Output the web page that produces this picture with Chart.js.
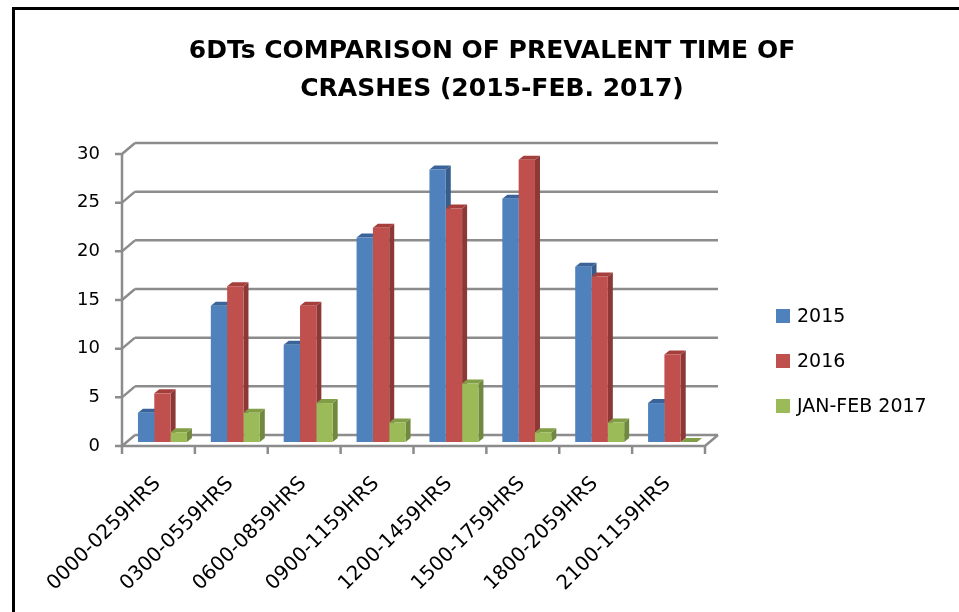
<!DOCTYPE html>
<html>
<head>
<meta charset="utf-8">
<script src="https://cdn.jsdelivr.net/npm/chart.js@4.4.1/dist/chart.umd.min.js"></script>
<style>
  html, body { margin: 0; padding: 0; background: #fff; overflow: hidden; width: 959px; height: 612px; }
  #frame { position: absolute; left: 12px; top: 7px; border-left: 3px solid #000; border-top: 3px solid #000; width: 954px; height: 602px; }
  #wrap { position: relative; width: 954px; height: 602px; }
</style>
</head>
<body>
<div id="frame"><div id="wrap"><canvas id="c"></canvas></div></div>
<script>
const titleLines = ["6DTs COMPARISON OF PREVALENT TIME OF", "CRASHES (2015-FEB. 2017)"];
const categories = ["0000-0259HRS", "0300-0559HRS", "0600-0859HRS", "0900-1159HRS", "1200-1459HRS", "1500-1759HRS", "1800-2059HRS", "2100-1159HRS"];
const seriesNames = ["2015", "2016", "JAN-FEB 2017"];
const values2015 = [3, 14, 10, 21, 28, 25, 18, 4];
const values2016 = [5, 16, 14, 22, 24, 29, 17, 9];
const valuesJanFeb2017 = [1, 3, 4, 2, 6, 1, 2, 0];
const yTickValues = [0, 5, 10, 15, 20, 25, 30];

const frontColors = ["#4F81BD", "#C0504D", "#9BBB59"];
const sideColors = ["#385D8A", "#8C3836", "#71893F"];
const topColors = ["#3A6499", "#A43F3C", "#819E47"];

const GRID = "#8C8C8C";
const BACK = { dx: 9, dy: -7 };
const FRONT = { dx: -4, dy: 4 };
const DEPTH = { dx: 5, dy: 4 };

const threeD = {
  id: "threeD",
  beforeDatasetsDraw(chart) {
    const { ctx, chartArea, scales } = chart;
    const { left, right } = chartArea;
    const y = scales.y;
    ctx.save();
    ctx.strokeStyle = GRID;
    ctx.lineWidth = 2.5;
    ctx.lineCap = "butt";
    const y0 = y.getPixelForValue(0);
    yTickValues.forEach(v => {
      const py = y.getPixelForValue(v);
      ctx.beginPath();
      ctx.moveTo(left + BACK.dx, py + BACK.dy);
      ctx.lineTo(right + BACK.dx, py + BACK.dy);
      ctx.moveTo(left + FRONT.dx, py + FRONT.dy);
      ctx.lineTo(left + BACK.dx, py + BACK.dy);
      ctx.moveTo(left + FRONT.dx - 7, py + FRONT.dy);
      ctx.lineTo(left + FRONT.dx, py + FRONT.dy);
      ctx.stroke();
    });
    const yTop = y.getPixelForValue(yTickValues[yTickValues.length - 1]);
    ctx.beginPath();
    ctx.moveTo(left + FRONT.dx, yTop + FRONT.dy);
    ctx.lineTo(left + FRONT.dx, y0 + FRONT.dy);
    ctx.lineTo(right + FRONT.dx, y0 + FRONT.dy);
    ctx.lineTo(right + BACK.dx, y0 + BACK.dy);
    ctx.stroke();
    const n = categories.length;
    const cw = (right - left) / n;
    ctx.beginPath();
    for (let i = 0; i <= n; i++) {
      const xx = left + FRONT.dx + i * cw;
      ctx.moveTo(xx, y0 + FRONT.dy);
      ctx.lineTo(xx, y0 + FRONT.dy + 8);
    }
    ctx.stroke();
    for (let i = 0; i < n; i++) {
      chart.data.datasets.forEach((ds, d) => {
        const el = chart.getDatasetMeta(d).data[i];
        if (!el) return;
        const { x, y: top, base, width } = el.getProps(["x", "y", "base", "width"], true);
        const l = x - width / 2, r = x + width / 2;
        ctx.fillStyle = sideColors[d];
        ctx.beginPath();
        ctx.moveTo(r, top);
        ctx.lineTo(r + DEPTH.dx, top - DEPTH.dy);
        ctx.lineTo(r + DEPTH.dx, base - DEPTH.dy);
        ctx.lineTo(r, base);
        ctx.closePath();
        ctx.fill();
        ctx.fillStyle = topColors[d];
        ctx.beginPath();
        ctx.moveTo(l, top);
        ctx.lineTo(l + DEPTH.dx, top - DEPTH.dy);
        ctx.lineTo(r + DEPTH.dx, top - DEPTH.dy);
        ctx.lineTo(r, top);
        ctx.closePath();
        ctx.fill();
      });
    }
    ctx.restore();
  },
  afterDraw(chart) {
    const { ctx } = chart;
    ctx.save();
    ctx.fillStyle = "#000";
    ctx.font = "bold 25px 'DejaVu Sans'";
    ctx.textAlign = "center";
    ctx.textBaseline = "middle";
    titleLines.forEach((t, i) => ctx.fillText(t, 477, 41 + i * 38));
    ctx.font = "19px 'DejaVu Sans'";
    ctx.textAlign = "left";
    chart.data.datasets.forEach((ds, d) => {
      const cy = 306 + d * 45;
      ctx.fillStyle = frontColors[d];
      ctx.fillRect(761, cy - 7, 14, 14);
      ctx.fillStyle = "#000";
      ctx.fillText(ds.label, 782, cy + 1);
    });
    ctx.restore();
  }
};

const seriesValues = [values2015, values2016, valuesJanFeb2017];

new Chart(document.getElementById("c"), {
  type: "bar",
  data: {
    labels: categories,
    datasets: seriesNames.map((name, d) => ({
      label: name,
      data: seriesValues[d],
      backgroundColor: frontColors[d],
      borderWidth: 0,
      categoryPercentage: 0.672,
      barPercentage: 1.0
    }))
  },
  options: {
    responsive: true,
    maintainAspectRatio: false,
    devicePixelRatio: 1,
    animation: false,
    events: [],
    layout: { padding: { left: 51, right: 260, top: 140, bottom: 20 } },
    plugins: { legend: { display: false }, title: { display: false }, tooltip: { enabled: false } },
    scales: {
      x: {
        grid: { display: false, drawTicks: false },
        border: { display: false },
        ticks: {
          color: "#000",
          font: { family: "'DejaVu Sans'", size: 20 },
          minRotation: 45,
          maxRotation: 45,
          padding: 30,
          labelOffset: -5,
          autoSkip: false
        },
        afterFit(scale) { scale.height = 150; }
      },
      y: {
        min: 0,
        max: 30,
        grid: { display: false, drawTicks: false },
        border: { display: false },
        afterBuildTicks(scale) { scale.ticks = yTickValues.map(v => ({ value: v })); },
        ticks: {
          color: "#000",
          font: { family: "'DejaVu Sans'", size: 18 },
          padding: 26,
          labelOffset: 4
        },
        afterFit(scale) { scale.width = 60; }
      }
    }
  },
  plugins: [threeD]
});
</script>
</body>
</html>
